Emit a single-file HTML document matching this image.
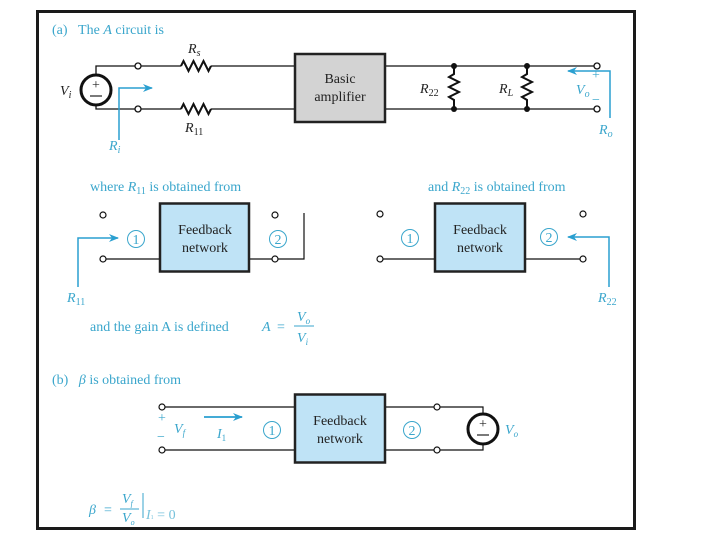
<!DOCTYPE html>
<html><head><meta charset="utf-8"><style>
html,body{margin:0;padding:0;background:#fff;}
svg{display:block;}
text{font-family:"Liberation Serif",serif;}
.t{fill:#3aa6cc;font-size:14px;}
.k{fill:#222;font-size:14px;}
.i{font-style:italic;}
</style></head><body>
<svg width="720" height="540" viewBox="0 0 720 540" xmlns="http://www.w3.org/2000/svg">
<defs>
<marker id="ar" markerWidth="10" markerHeight="8" refX="9" refY="4" orient="auto" markerUnits="userSpaceOnUse">
<path d="M0,0 L10,4 L0,8 L3,4 Z" fill="#2a9fd0"/></marker>
</defs>
<rect x="37.5" y="11.5" width="597" height="517" fill="#fff" stroke="#1a1a1a" stroke-width="3"/>

<text class="t" x="52" y="34">(a)&#160;&#160;&#160;The <tspan class="i">A</tspan> circuit is</text>
<g stroke="#111" stroke-width="1.3" fill="none">
<path d="M96,75 V66 H135 M141,66 H181 M211,66 H294"/>
<path d="M96,105 V109 H135 M141,109 H181 M211,109 H294"/>
<path d="M181,66 l2.5,-5 l5,10 l5,-10 l5,10 l5,-10 l5,10 l2.5,-5" stroke-width="2"/>
<path d="M181,109 l2.5,-5 l5,10 l5,-10 l5,10 l5,-10 l5,10 l2.5,-5" stroke-width="2"/>
<circle cx="138" cy="66" r="3" fill="#fff"/>
<circle cx="138" cy="109" r="3" fill="#fff"/>
<path d="M385,66 H594 M385,109 H594"/>
<path d="M454,66 V74 l-5,3 l10,5 l-10,5 l10,5 l-10,5 l5,3 V109" stroke-width="2"/>
<path d="M527,66 V74 l-5,3 l10,5 l-10,5 l10,5 l-10,5 l5,3 V109" stroke-width="2"/>
<circle cx="597" cy="66" r="3" fill="#fff"/>
<circle cx="597" cy="109" r="3" fill="#fff"/>
</g>
<circle cx="96" cy="90" r="15" fill="#fff" stroke="#111" stroke-width="3"/>
<text x="96" y="89" text-anchor="middle" font-size="14" fill="#222">+</text>
<line x1="90" y1="96" x2="102" y2="96" stroke="#222" stroke-width="1.2"/>
<g fill="#111"><circle cx="454" cy="66" r="3"/><circle cx="454" cy="109" r="3"/><circle cx="527" cy="66" r="3"/><circle cx="527" cy="109" r="3"/></g>
<rect x="295" y="54" width="90" height="68" fill="#d3d3d3" stroke="#222" stroke-width="2.5"/>
<text class="k" x="340" y="83" text-anchor="middle">Basic</text>
<text class="k" x="340" y="101" text-anchor="middle">amplifier</text>
<text class="k i" x="188" y="53">R<tspan font-size="10" dy="3">s</tspan></text>
<text class="k i" x="185" y="132">R<tspan font-size="10" dy="3" font-style="normal">11</tspan></text>
<text class="k i" x="60" y="95">V<tspan font-size="10" dy="3">i</tspan></text>
<text class="k i" x="420" y="93">R<tspan font-size="10" dy="3" font-style="normal">22</tspan></text>
<text class="k i" x="499" y="93">R<tspan font-size="10" dy="3">L</tspan></text>
<path d="M119,140 V88 H152" stroke="#2a9fd0" stroke-width="1.5" fill="none" marker-end="url(#ar)"/>
<text class="t i" x="109" y="150">R<tspan font-size="10" dy="3">i</tspan></text>
<path d="M610,118 V71 H568" stroke="#2a9fd0" stroke-width="1.5" fill="none" marker-end="url(#ar)"/>
<text class="t" x="592" y="79" font-size="12">+</text>
<text class="t" x="592" y="104" font-size="12">−</text>
<text class="t i" x="576" y="94">V<tspan font-size="10" dy="3">o</tspan></text>
<text class="t i" x="599" y="134">R<tspan font-size="10" dy="3">o</tspan></text>

<text class="t" x="90" y="191">where <tspan class="i">R</tspan><tspan font-size="10" dy="3">11</tspan><tspan dy="-3"> is obtained from</tspan></text>
<g stroke="#111" stroke-width="1.2" fill="none">
<path d="M106,259 H160 M249,259 H304 V213"/>
<circle cx="103" cy="215" r="3" fill="#fff"/><circle cx="103" cy="259" r="3" fill="#fff"/>
<circle cx="275" cy="215" r="3" fill="#fff"/><circle cx="275" cy="259" r="3" fill="#fff"/>
</g>
<rect x="160" y="203.5" width="89" height="68" fill="#bfe3f6" stroke="#222" stroke-width="2.5"/>
<text class="k" x="205" y="234" text-anchor="middle">Feedback</text>
<text class="k" x="205" y="252" text-anchor="middle">network</text>
<circle cx="136" cy="239" r="8.5" fill="none" stroke="#3aa6cc" stroke-width="1"/>
<text class="t" x="136" y="244" text-anchor="middle" font-size="13">1</text>
<circle cx="278" cy="239" r="8.5" fill="none" stroke="#3aa6cc" stroke-width="1"/>
<text class="t" x="278" y="244" text-anchor="middle" font-size="13">2</text>
<path d="M78,287 V238 H118" stroke="#2a9fd0" stroke-width="1.5" fill="none" marker-end="url(#ar)"/>
<text class="t i" x="67" y="302">R<tspan font-size="10" dy="3" font-style="normal">11</tspan></text>
<text class="t" x="90" y="331">and the gain A is defined</text>
<text class="t i" x="262" y="331">A</text>
<text class="t" x="277" y="331">=</text>
<line x1="294" y1="326" x2="314" y2="326" stroke="#3aa6cc" stroke-width="1"/>
<text class="t i" x="297" y="321">V<tspan font-size="9" dy="3">o</tspan></text>
<text class="t i" x="297" y="342">V<tspan font-size="9" dy="3">i</tspan></text>

<text class="t" x="428" y="191">and <tspan class="i">R</tspan><tspan font-size="10" dy="3">22</tspan><tspan dy="-3"> is obtained from</tspan></text>
<g stroke="#111" stroke-width="1.2" fill="none">
<path d="M383,259 H435 M525,259 H580"/>
<circle cx="380" cy="214" r="3" fill="#fff"/><circle cx="380" cy="259" r="3" fill="#fff"/>
<circle cx="583" cy="214" r="3" fill="#fff"/><circle cx="583" cy="259" r="3" fill="#fff"/>
</g>
<rect x="435" y="203.5" width="90" height="68" fill="#bfe3f6" stroke="#222" stroke-width="2.5"/>
<text class="k" x="480" y="234" text-anchor="middle">Feedback</text>
<text class="k" x="480" y="252" text-anchor="middle">network</text>
<circle cx="410" cy="238" r="8.5" fill="none" stroke="#3aa6cc" stroke-width="1"/>
<text class="t" x="410" y="243" text-anchor="middle" font-size="13">1</text>
<circle cx="549" cy="237" r="8.5" fill="none" stroke="#3aa6cc" stroke-width="1"/>
<text class="t" x="549" y="242" text-anchor="middle" font-size="13">2</text>
<path d="M609,287 V237 H568" stroke="#2a9fd0" stroke-width="1.5" fill="none" marker-end="url(#ar)"/>
<text class="t i" x="598" y="302">R<tspan font-size="10" dy="3" font-style="normal">22</tspan></text>

<text class="t" x="52" y="384">(b)&#160;&#160;&#160;<tspan class="i">β</tspan> is obtained from</text>
<g stroke="#111" stroke-width="1.2" fill="none">
<path d="M165,407 H294 M385,407 H434 M440,407 H483 V414"/>
<path d="M165,450 H294 M385,450 H434 M440,450 H483 V444"/>
<circle cx="162" cy="407" r="3" fill="#fff"/><circle cx="162" cy="450" r="3" fill="#fff"/>
<circle cx="437" cy="407" r="3" fill="#fff"/><circle cx="437" cy="450" r="3" fill="#fff"/>
</g>
<rect x="295" y="394.5" width="90" height="68" fill="#bfe3f6" stroke="#222" stroke-width="2.5"/>
<text class="k" x="340" y="425" text-anchor="middle">Feedback</text>
<text class="k" x="340" y="443" text-anchor="middle">network</text>
<circle cx="272" cy="430" r="8.5" fill="none" stroke="#3aa6cc" stroke-width="1"/>
<text class="t" x="272" y="435" text-anchor="middle" font-size="13">1</text>
<circle cx="412" cy="430" r="8.5" fill="none" stroke="#3aa6cc" stroke-width="1"/>
<text class="t" x="412" y="435" text-anchor="middle" font-size="13">2</text>
<circle cx="483" cy="429" r="15" fill="#fff" stroke="#111" stroke-width="3"/>
<text x="483" y="428" text-anchor="middle" font-size="14" fill="#222">+</text>
<line x1="477" y1="435" x2="489" y2="435" stroke="#222" stroke-width="1.2"/>
<text class="t i" x="505" y="434">V<tspan font-size="9" dy="3">o</tspan></text>
<text class="t" x="158" y="422" font-size="11">+</text>
<text class="t" x="157" y="441" font-size="13">−</text>
<text class="t i" x="174" y="433">V<tspan font-size="9" dy="3">f</tspan></text>
<line x1="204" y1="417" x2="242" y2="417" stroke="#2a9fd0" stroke-width="1.8" marker-end="url(#ar)"/>
<text class="t i" x="217" y="438">I<tspan font-size="9" dy="3" font-style="normal">1</tspan></text>
<text class="t i" x="89" y="514" font-size="16">β</text>
<text class="t" x="104" y="514">=</text>
<line x1="120" y1="509" x2="139" y2="509" stroke="#3aa6cc" stroke-width="1"/>
<text class="t i" x="122" y="503" font-size="13">V<tspan font-size="8" dy="3">f</tspan></text>
<text class="t i" x="122" y="522" font-size="13">V<tspan font-size="8" dy="3">o</tspan></text>
<line x1="143" y1="493" x2="143" y2="518" stroke="#3aa6cc" stroke-width="1"/>
<text class="t i" x="146" y="519" font-size="8" fill-opacity="0.7">I<tspan font-size="6" font-style="normal">1</tspan><tspan font-style="normal"> = 0</tspan></text>
</svg>
</body></html>
